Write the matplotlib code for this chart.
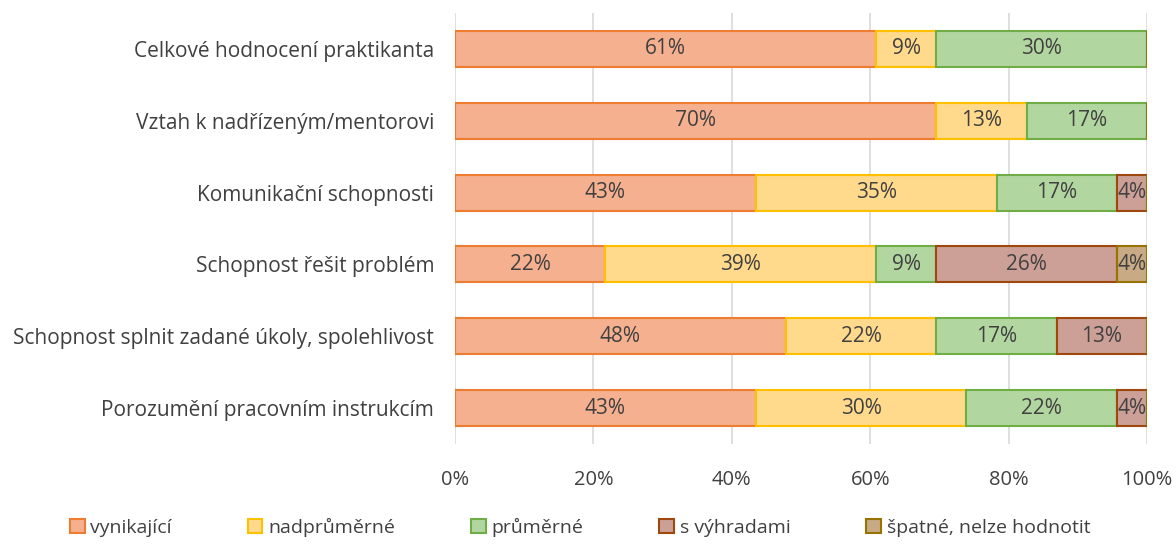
import numpy as np
import matplotlib
matplotlib.use("Agg")
import matplotlib.pyplot as plt

plt.rcParams['font.family'] = ['Open Sans', 'DejaVu Sans']

categories = [
    "Celkové hodnocení praktikanta",
    "Vztah k nadřízeným/mentorovi",
    "Komunikační schopnosti",
    "Schopnost řešit problém",
    "Schopnost splnit zadané úkoly, spolehlivost",
    "Porozumění pracovním instrukcím",
]
series_names = ["vynikající", "nadprůměrné", "průměrné", "s výhradami", "špatné, nelze hodnotit"]
# number of respondents (n = 23) per rating
vynikajici = [14, 16, 10, 5, 11, 10]
nadprumerne = [2, 3, 8, 9, 5, 7]
prumerne = [7, 4, 4, 2, 4, 5]
s_vyhradami = [0, 0, 1, 6, 3, 1]
spatne = [0, 0, 0, 1, 0, 0]

fills = ["#F5B08F", "#FFD98C", "#B2D6A0", "#CCA096", "#C8AA84"]
edges = ["#ED7D31", "#FFC000", "#70AD47", "#9E480E", "#997300"]

data = np.array([vynikajici, nadprumerne, prumerne, s_vyhradami, spatne], dtype=float)
totals = data.sum(axis=0)
shares = data / totals

fig = plt.figure(figsize=(11.76, 5.45), dpi=100)
ax = fig.add_axes([455 / 1176, 1 - 444 / 545, 692 / 1176, 431 / 545])

y = np.arange(len(categories))
left = np.zeros(len(categories))
for i, name in enumerate(series_names):
    ax.barh(y, shares[i], left=left, height=0.5, color=fills[i],
            edgecolor=edges[i], linewidth=1.5, label=name, zorder=3)
    for j, v in enumerate(shares[i]):
        if v > 0:
            ax.text(left[j] + v / 2, y[j], f"{round(v * 100):.0f}%",
                    ha="center", va="center", fontsize=15, color="#404040", zorder=4)
    left += shares[i]

ticks = np.linspace(0, 1, 6)
ax.set_ylim(len(categories) - 0.5, -0.5)
ax.set_xlim(0, 1)
ax.set_xticks(ticks)
ax.set_xticklabels([f"{int(round(t * 100))}%" for t in ticks])
ax.set_yticks(y)
ax.set_yticklabels(categories)
ax.tick_params(axis="x", length=0, pad=19, labelsize=14.5, labelcolor="#404040")
ax.tick_params(axis="y", length=0, pad=15, labelsize=15, labelcolor="#404040")
ax.grid(axis="x", color="#D9D9D9", linewidth=1.2, zorder=0)
for s in ax.spines.values():
    s.set_visible(False)

fig.legend(loc="center left", bbox_to_anchor=(70 / 1176, 1 - 527 / 545), ncol=5, frameon=False,
           fontsize=14, handlelength=0.75, handleheight=0.75, handletextpad=0.3,
           columnspacing=3.9, labelcolor="#404040", borderaxespad=0, borderpad=0)

fig.savefig("out.png", dpi=100)
